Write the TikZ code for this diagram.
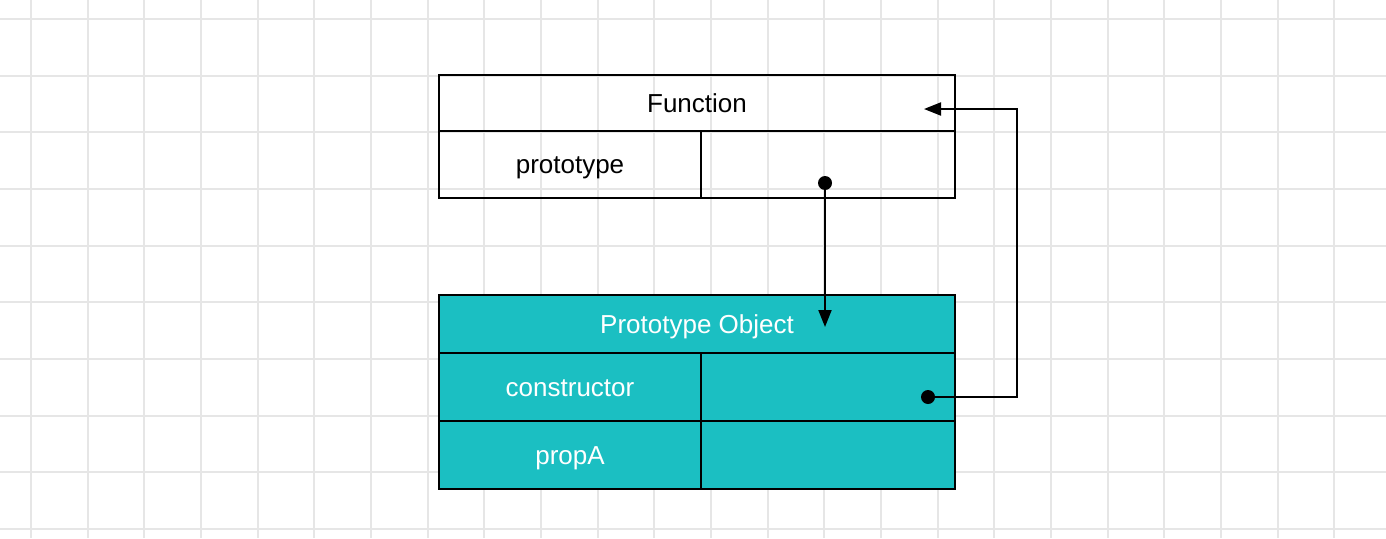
\documentclass[tikz,border=0pt]{standalone}
\usepackage{fontspec}
\setmainfont{Liberation Sans}
\usetikzlibrary{arrows.meta}
\definecolor{objteal}{HTML}{1BBFC2}
\definecolor{gridgray}{HTML}{E6E6E6}

\begin{document}
\begin{tikzpicture}[x=1pt,y=1pt,yscale=-1,xscale=1,
  gridline/.style={draw=gridgray,line width=1.7pt},
  cell/.style={draw=black,line width=2pt,inner sep=0pt,text height=18.5pt,text depth=0pt,
    font=\fontsize{26}{30}\selectfont},
  objcell/.style={cell,fill=objteal,text=white},
  dot/.style={circle,fill=black,inner sep=0pt,minimum size=14pt},
  link/.style={line width=2pt,-{Triangle[length=17pt,width=13pt]}}]
%set diagram left start at 0, and has height of 538
\useasboundingbox (0,0) rectangle (1386,538);
\fill[white] (0,0) rectangle (1386,538);

%Grid
\foreach \gx [evaluate=\gx as \px using {round(31+56.67*\gx)}] in {0,...,23}
  \draw[gridline] (\px,0) -- (\px,538);
\foreach \gy [evaluate=\gy as \py using {round(19+56.67*\gy)}] in {0,...,9}
  \draw[gridline] (0,\py) -- (1386,\py);

%Shape: Function table
\node[cell,minimum width=516pt,minimum height=56pt] (fn) at (697,103) {Function};
\node[cell,minimum width=262pt,minimum height=67pt] (fnproto) at (570,164.5) {prototype};
\node[cell,minimum width=254pt,minimum height=67pt] (fnprotoval) at (828,164.5) {};

%Shape: Prototype Object table
\node[objcell,minimum width=516pt,minimum height=58pt] (obj) at (697,324) {Prototype Object};
\node[objcell,minimum width=262pt,minimum height=68pt] (objctor) at (570,387) {constructor};
\node[objcell,minimum width=254pt,minimum height=68pt] (objctorval) at (828,387) {};
\node[objcell,minimum width=262pt,minimum height=68pt] (objprop) at (570,455) {propA};
\node[objcell,minimum width=254pt,minimum height=68pt] (objpropval) at (828,455) {};

%Shape: Circle
\node[dot] (protodot) at (825,183) {};
\node[dot] (ctordot) at (928,397) {};

%Straight Lines
\coordinate (objin) at (825,327);
\coordinate (fnbend) at (1017,109);
\coordinate (fnin) at (924,109);
\draw[link] (protodot.center) -- (objin);
\draw[link] (ctordot.center) -| (fnbend) -- (fnin);

\end{tikzpicture}
\end{document}
